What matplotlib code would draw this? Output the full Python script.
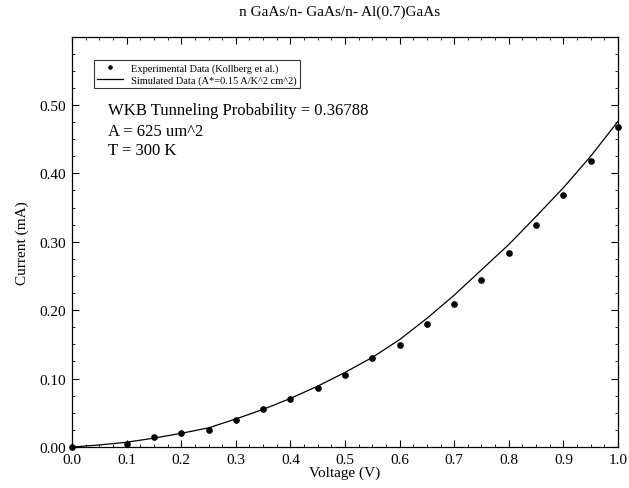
import numpy as np
import matplotlib
matplotlib.use('Agg')
import matplotlib.pyplot as plt
from matplotlib.ticker import MultipleLocator, FormatStrFormatter

plt.rcParams['font.family'] = ['Liberation Serif', 'DejaVu Serif']

# experimental points (Kollberg et al.)
v_exp = [0.0, 0.10, 0.15, 0.20, 0.25, 0.30, 0.35, 0.40, 0.45, 0.50, 0.55,
         0.60, 0.65, 0.70, 0.75, 0.80, 0.85, 0.90, 0.95, 1.00]
i_exp = [0.000, 0.004, 0.015, 0.020, 0.025, 0.040, 0.055, 0.070, 0.086, 0.105, 0.130,
         0.149, 0.180, 0.209, 0.244, 0.284, 0.324, 0.368, 0.418, 0.468]

# simulated curve
v_sim = [0.0, 0.05, 0.10, 0.15, 0.20, 0.25, 0.30, 0.35, 0.40, 0.45, 0.50,
         0.55, 0.60, 0.65, 0.70, 0.75, 0.80, 0.85, 0.90, 0.95, 1.00]
i_sim = [0.000, 0.003, 0.007, 0.013, 0.020, 0.028, 0.041, 0.055, 0.071, 0.089, 0.109,
         0.131, 0.157, 0.188, 0.222, 0.259, 0.296, 0.337, 0.379, 0.425, 0.476]

fig = plt.figure(figsize=(6.29, 4.89), dpi=100)
ax = fig.add_axes([0.1145, 0.0838, 0.868, 0.8395])

ax.plot(v_sim, i_sim, color='black', lw=0.9,
        label='Simulated Data (A*=0.15 A/K^2 cm^2)')
ax.plot(v_exp, i_exp, 'o', color='black', ms=3.8, clip_on=False,
        label='Experimental Data (Kollberg et al.)')

ax.set_xlim(0, 1.0)
ax.set_ylim(0, 0.6)
ax.xaxis.set_major_locator(MultipleLocator(0.1))
ax.xaxis.set_minor_locator(MultipleLocator(0.025))
ax.yaxis.set_major_locator(MultipleLocator(0.1))
ax.yaxis.set_minor_locator(MultipleLocator(0.025))
ax.xaxis.set_major_formatter(FormatStrFormatter('%.1f'))
ax.yaxis.set_major_formatter(FormatStrFormatter('%.2f'))
ax.set_yticks([0, 0.1, 0.2, 0.3, 0.4, 0.5])
ax.tick_params(which='both', direction='in', top=True, right=True, labelsize=11)
ax.tick_params(which='major', length=5, width=0.8, pad=4)
ax.tick_params(which='minor', length=2.5, width=0.6)
for s in ax.spines.values():
    s.set_linewidth(0.9)

ax.set_xlabel('Voltage (V)', fontsize=11, labelpad=0)
ax.set_ylabel('Current (mA)', fontsize=11, labelpad=8)
fig.text(0.54, 0.975, 'n GaAs/n- GaAs/n- Al(0.7)GaAs', ha='center', va='center', fontsize=11)

h, l = ax.get_legend_handles_labels()
leg = ax.legend(h[::-1], l[::-1], loc='upper left', bbox_to_anchor=(0.03, 0.955),
                fontsize=7.5, frameon=True, fancybox=False, edgecolor='black',
                handlelength=2.5, borderpad=0.3, labelspacing=0.2, markerscale=0.6)
leg.get_frame().set_linewidth(0.8)

ax.text(0.066, 0.82, 'WKB Tunneling Probability = 0.36788', transform=ax.transAxes,
        fontsize=12, va='center')
ax.text(0.066, 0.771, 'A = 625 um^2', transform=ax.transAxes, fontsize=12, va='center')
ax.text(0.066, 0.723, 'T = 300 K', transform=ax.transAxes, fontsize=12, va='center')

fig.savefig('out.png', dpi=100)
